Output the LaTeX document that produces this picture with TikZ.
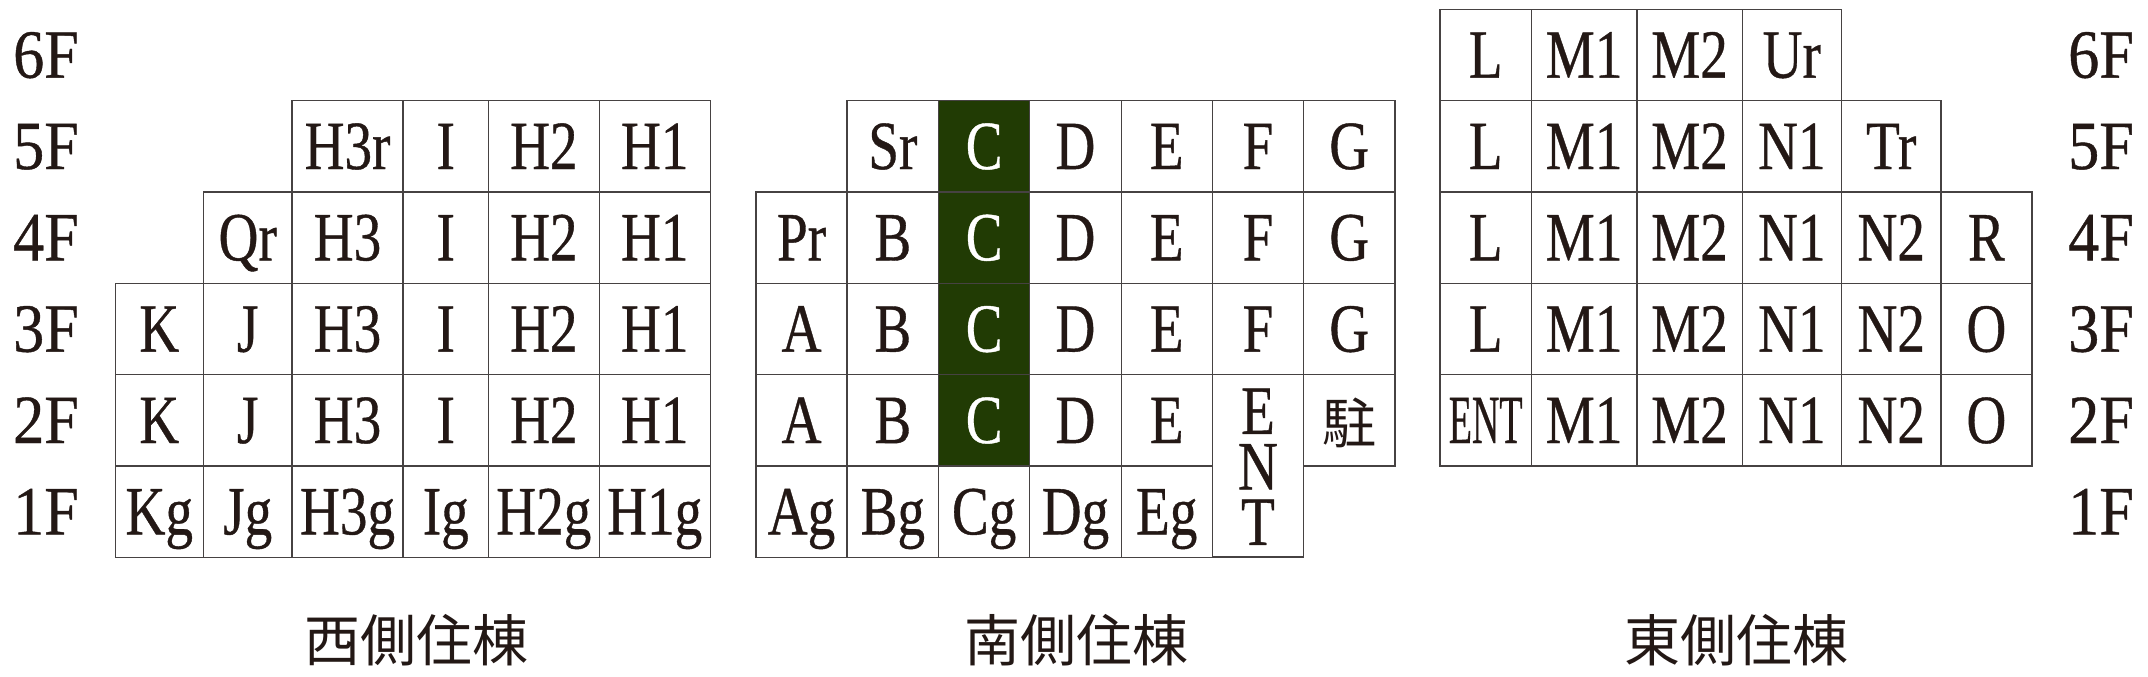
\documentclass[tikz,border=0pt]{standalone}
\usepackage{fontspec}
\usepackage{graphicx}
\setmainfont[FakeBold=0.6]{Liberation Serif}
\newfontfamily\jp{Noto Sans CJK JP}
\definecolor{ink}{RGB}{35,24,21}
\definecolor{rule}{RGB}{70,66,66}
\definecolor{cgreen}{RGB}{33,59,4}
\newcommand\nx[1]{\scalebox{0.8}[1]{#1}}
\newcommand\fl[1]{\scalebox{0.9}[1]{#1}}
\newcommand\rowy[1]{9.2+91.333*#1+45.667}
\newcommand\cellbox[6]{\node[cellst,#5,minimum width={(#3-#2)*0.5pt}] (#1) at ({(#2+#3)/2},{\rowy{#4}}) {#6};}
\begin{document}
\begin{tikzpicture}[x=0.5pt,y=-0.5pt,
  cellst/.style={draw=rule,line width=0.7pt,fill=white,inner sep=0pt,minimum height=45.667pt,
    text height=22.8pt,text depth=0pt,text=ink,font=\fontsize{34.5pt}{40pt}\selectfont},
  cfill/.style={fill=cgreen,text=white},
  floorlab/.style={inner sep=0pt,text height=22.8pt,text depth=0pt,text=ink,font=\fontsize{34.5pt}{40pt}\selectfont},
  letter/.style={inner sep=0pt,text height=22.8pt,text depth=0pt,text=ink,font=\fontsize{34.5pt}{40pt}\selectfont},
  bldg/.style={inner sep=0pt,anchor=base,text=ink,font=\jp\fontsize{28pt}{32pt}\selectfont}]
\useasboundingbox (0,0) rectangle (2148,676);

% floor labels
\node[floorlab] (l6) at (46,{\rowy{0}}) {\fl{6F}};
\node[floorlab] (l5) at (46,{\rowy{1}}) {\fl{5F}};
\node[floorlab] (l4) at (46,{\rowy{2}}) {\fl{4F}};
\node[floorlab] (l3) at (46,{\rowy{3}}) {\fl{3F}};
\node[floorlab] (l2) at (46,{\rowy{4}}) {\fl{2F}};
\node[floorlab] (l1) at (46,{\rowy{5}}) {\fl{1F}};
\node[floorlab] (r6) at (2101,{\rowy{0}}) {\fl{6F}};
\node[floorlab] (r5) at (2101,{\rowy{1}}) {\fl{5F}};
\node[floorlab] (r4) at (2101,{\rowy{2}}) {\fl{4F}};
\node[floorlab] (r3) at (2101,{\rowy{3}}) {\fl{3F}};
\node[floorlab] (r2) at (2101,{\rowy{4}}) {\fl{2F}};
\node[floorlab] (r1) at (2101,{\rowy{5}}) {\fl{1F}};

% ---------- West building ----------
\cellbox{w5c}{292.0}{403.1}{1}{}{\nx{H3r}}
\cellbox{w5d}{403.1}{488.5}{1}{}{\nx{I}}
\cellbox{w5e}{488.5}{599.2}{1}{}{\nx{H2}}
\cellbox{w5f}{599.2}{710.3}{1}{}{\nx{H1}}
\cellbox{w4b}{203.4}{292.0}{2}{}{\nx{Qr}}
\cellbox{w4c}{292.0}{403.1}{2}{}{\nx{H3}}
\cellbox{w4d}{403.1}{488.5}{2}{}{\nx{I}}
\cellbox{w4e}{488.5}{599.2}{2}{}{\nx{H2}}
\cellbox{w4f}{599.2}{710.3}{2}{}{\nx{H1}}
\cellbox{w3a}{115.2}{203.4}{3}{}{\nx{K}}
\cellbox{w3b}{203.4}{292.0}{3}{}{\nx{J}}
\cellbox{w3c}{292.0}{403.1}{3}{}{\nx{H3}}
\cellbox{w3d}{403.1}{488.5}{3}{}{\nx{I}}
\cellbox{w3e}{488.5}{599.2}{3}{}{\nx{H2}}
\cellbox{w3f}{599.2}{710.3}{3}{}{\nx{H1}}
\cellbox{w2a}{115.2}{203.4}{4}{}{\nx{K}}
\cellbox{w2b}{203.4}{292.0}{4}{}{\nx{J}}
\cellbox{w2c}{292.0}{403.1}{4}{}{\nx{H3}}
\cellbox{w2d}{403.1}{488.5}{4}{}{\nx{I}}
\cellbox{w2e}{488.5}{599.2}{4}{}{\nx{H2}}
\cellbox{w2f}{599.2}{710.3}{4}{}{\nx{H1}}
\cellbox{w1a}{115.2}{203.4}{5}{}{\nx{Kg}}
\cellbox{w1b}{203.4}{292.0}{5}{}{\nx{Jg}}
\cellbox{w1c}{292.0}{403.1}{5}{}{\nx{H3g}}
\cellbox{w1d}{403.1}{488.5}{5}{}{\nx{Ig}}
\cellbox{w1e}{488.5}{599.2}{5}{}{\nx{H2g}}
\cellbox{w1f}{599.2}{710.3}{5}{}{\nx{H1g}}

% ---------- South building ----------
\cellbox{s5b}{847.1}{938.6}{1}{}{\nx{Sr}}
\cellbox{s5c}{938.6}{1029.7}{1}{cfill}{\nx{C}}
\cellbox{s5d}{1029.7}{1121.2}{1}{}{\nx{D}}
\cellbox{s5e}{1121.2}{1212.2}{1}{}{\nx{E}}
\cellbox{s5f}{1212.2}{1303.7}{1}{}{\nx{F}}
\cellbox{s5g}{1303.7}{1394.8}{1}{}{\nx{G}}
\cellbox{s4a}{756.0}{847.1}{2}{}{\nx{Pr}}
\cellbox{s4b}{847.1}{938.6}{2}{}{\nx{B}}
\cellbox{s4c}{938.6}{1029.7}{2}{cfill}{\nx{C}}
\cellbox{s4d}{1029.7}{1121.2}{2}{}{\nx{D}}
\cellbox{s4e}{1121.2}{1212.2}{2}{}{\nx{E}}
\cellbox{s4f}{1212.2}{1303.7}{2}{}{\nx{F}}
\cellbox{s4g}{1303.7}{1394.8}{2}{}{\nx{G}}
\cellbox{s3a}{756.0}{847.1}{3}{}{\nx{A}}
\cellbox{s3b}{847.1}{938.6}{3}{}{\nx{B}}
\cellbox{s3c}{938.6}{1029.7}{3}{cfill}{\nx{C}}
\cellbox{s3d}{1029.7}{1121.2}{3}{}{\nx{D}}
\cellbox{s3e}{1121.2}{1212.2}{3}{}{\nx{E}}
\cellbox{s3f}{1212.2}{1303.7}{3}{}{\nx{F}}
\cellbox{s3g}{1303.7}{1394.8}{3}{}{\nx{G}}
\cellbox{s2a}{756.0}{847.1}{4}{}{\nx{A}}
\cellbox{s2b}{847.1}{938.6}{4}{}{\nx{B}}
\cellbox{s2c}{938.6}{1029.7}{4}{cfill}{\nx{C}}
\cellbox{s2d}{1029.7}{1121.2}{4}{}{\nx{D}}
\cellbox{s2e}{1121.2}{1212.2}{4}{}{\nx{E}}
\cellbox{s2g}{1303.7}{1394.8}{4}{font=\jp\fontsize{27pt}{32pt}\selectfont}{駐}
\cellbox{s1a}{756.0}{847.1}{5}{}{\nx{Ag}}
\cellbox{s1b}{847.1}{938.6}{5}{}{\nx{Bg}}
\cellbox{s1c}{938.6}{1029.7}{5}{}{\nx{Cg}}
\cellbox{s1d}{1029.7}{1121.2}{5}{}{\nx{Dg}}
\cellbox{s1e}{1121.2}{1212.2}{5}{}{\nx{Eg}}
\node[cellst,minimum width={(1303.7-1212.2)*0.5pt},minimum height=91.333pt] (sent) at (1257.95,465.83) {};
\node[letter] (entE) at (1257.95,411) {\nx{E}};
\node[letter] (entN) at (1257.95,466.5) {\nx{N}};
\node[letter] (entT) at (1257.95,522) {\nx{T}};

% ---------- East building ----------
\cellbox{e6a}{1440.0}{1531.4}{0}{}{\nx{L}}
\cellbox{e6b}{1531.4}{1636.8}{0}{}{\nx{M1}}
\cellbox{e6c}{1636.8}{1742.2}{0}{}{\nx{M2}}
\cellbox{e6d}{1742.2}{1841.5}{0}{}{\nx{Ur}}
\cellbox{e5a}{1440.0}{1531.4}{1}{}{\nx{L}}
\cellbox{e5b}{1531.4}{1636.8}{1}{}{\nx{M1}}
\cellbox{e5c}{1636.8}{1742.2}{1}{}{\nx{M2}}
\cellbox{e5d}{1742.2}{1841.5}{1}{}{\nx{N1}}
\cellbox{e5e}{1841.5}{1940.9}{1}{}{\nx{Tr}}
\cellbox{e4a}{1440.0}{1531.4}{2}{}{\nx{L}}
\cellbox{e4b}{1531.4}{1636.8}{2}{}{\nx{M1}}
\cellbox{e4c}{1636.8}{1742.2}{2}{}{\nx{M2}}
\cellbox{e4d}{1742.2}{1841.5}{2}{}{\nx{N1}}
\cellbox{e4e}{1841.5}{1940.9}{2}{}{\nx{N2}}
\cellbox{e4f}{1940.9}{2031.9}{2}{}{\nx{R}}
\cellbox{e3a}{1440.0}{1531.4}{3}{}{\nx{L}}
\cellbox{e3b}{1531.4}{1636.8}{3}{}{\nx{M1}}
\cellbox{e3c}{1636.8}{1742.2}{3}{}{\nx{M2}}
\cellbox{e3d}{1742.2}{1841.5}{3}{}{\nx{N1}}
\cellbox{e3e}{1841.5}{1940.9}{3}{}{\nx{N2}}
\cellbox{e3f}{1940.9}{2031.9}{3}{}{\nx{O}}
\cellbox{e2a}{1440.0}{1531.4}{4}{}{\scalebox{0.55}[1]{ENT}}
\cellbox{e2b}{1531.4}{1636.8}{4}{}{\nx{M1}}
\cellbox{e2c}{1636.8}{1742.2}{4}{}{\nx{M2}}
\cellbox{e2d}{1742.2}{1841.5}{4}{}{\nx{N1}}
\cellbox{e2e}{1841.5}{1940.9}{4}{}{\nx{N2}}
\cellbox{e2f}{1940.9}{2031.9}{4}{}{\nx{O}}

% building names
\node[bldg] (west) at (416.5,661) {西側住棟};
\node[bldg] (south) at (1076.5,661) {南側住棟};
\node[bldg] (east) at (1736.5,661) {東側住棟};
\end{tikzpicture}
\end{document}
